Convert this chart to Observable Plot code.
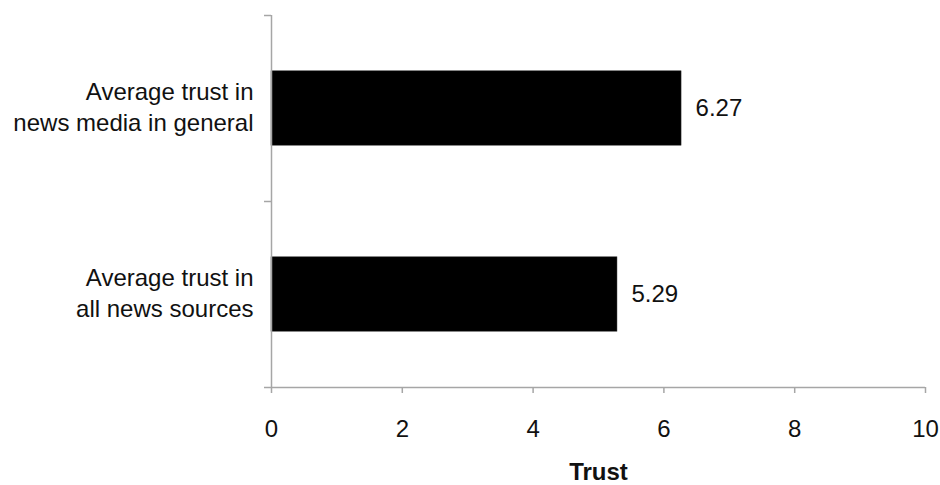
<!DOCTYPE html>
<html>
<head>
<meta charset="utf-8">
<script src="https://cdn.jsdelivr.net/npm/d3@7"></script>
<script src="https://cdn.jsdelivr.net/npm/@observablehq/plot@0.6"></script>
<style>
  html, body { margin: 0; padding: 0; background: #fff; }
  #chart { width: 940px; height: 485px; }
</style>
</head>
<body>
<div id="chart"></div>
<script>
const categories = ["Average trust in\nnews media in general", "Average trust in\nall news sources"];
const values = [6.27, 5.29];
const xTicks = [0, 2, 4, 6, 8, 10];
const valueLabels = ["6.27", "5.29"];
const axisTitle = "Trust";

const data = categories.map((c, i) => ({category: c, value: values[i], label: valueLabels[i], pos: i}));

const font = "'Liberation Sans', Arial, Helvetica, sans-serif";
const axisColor = "#a6a6a6";
const textColor = "#111";
const fs = 24;

const chart = Plot.plot({
  width: 940,
  height: 485,
  marginLeft: 271,
  marginRight: 15,
  marginTop: 15,
  marginBottom: 98,
  style: {fontFamily: font, fontSize: fs + "px", color: textColor, background: "#fff"},
  x: {domain: [0, 10]},
  y: {domain: [0, 2], reverse: true},
  marks: [
    Plot.rectX(data, {
      x1: () => 0,
      x2: "value",
      y1: d => d.pos + 0.3,
      y2: d => d.pos + 0.7,
      fill: "#000",
      stroke: "#333",
      strokeWidth: 0.5
    }),
    Plot.ruleX([0], {stroke: axisColor, strokeWidth: 1.5}),
    Plot.ruleY([2], {stroke: axisColor, strokeWidth: 1.5}),
    Plot.axisY({ticks: [0, 1, 2], tickFormat: () => "", tickSize: 7, stroke: axisColor, strokeWidth: 1.5, label: null}),
    Plot.axisX({ticks: xTicks, tickSize: 6, tickPadding: 26, stroke: axisColor, strokeWidth: 1.5, fontSize: fs, fill: textColor, label: null}),
    Plot.text(data, {
      y: d => d.pos + 0.5,
      text: "category",
      frameAnchor: "left",
      textAnchor: "end",
      dx: -18,
      dy: -3,
      fontSize: fs,
      lineHeight: 1.3,
      fill: textColor
    }),
    Plot.text(data, {
      x: "value",
      y: d => d.pos + 0.5,
      text: "label",
      textAnchor: "start",
      dx: 14,
      fontSize: fs,
      fill: textColor
    }),
    Plot.text([axisTitle], {
      frameAnchor: "bottom",
      dy: 92,
      text: d => d,
      fontWeight: "bold",
      fontSize: fs,
      fill: textColor
    })
  ]
});
document.getElementById("chart").appendChild(chart);
</script>
</body>
</html>
